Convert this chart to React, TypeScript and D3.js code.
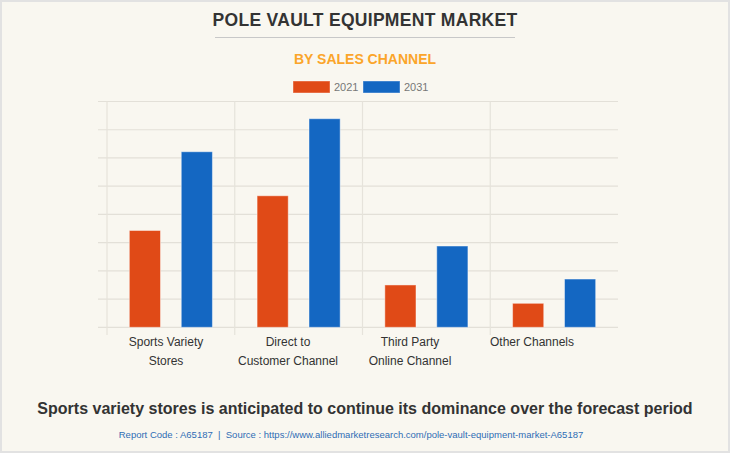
import React from "react";
import * as d3 from "d3";

const categories = ["Sports Variety Stores", "Direct to Customer Channel", "Third Party Online Channel", "Other Channels"];
const categoryLines = [["Sports Variety", "Stores"], ["Direct to", "Customer Channel"], ["Third Party", "Online Channel"], ["Other Channels"]];
const years = ["2021", "2031"];
const values2021 = [3.43, 4.66, 1.5, 0.85];
const values2031 = [6.22, 7.39, 2.88, 1.71];
const yTicks = [0, 1, 2, 3, 4, 5, 6, 7, 8];

const W = 730;
const H = 453;
const colors: Record<string, string> = { "2021": "#E04A17", "2031": "#1467C2" };
const BG = "#F9F7F0";
const FONT = "'Liberation Sans', Arial, Helvetica, sans-serif";

export default function App() {
  const plotLeft = 107;
  const plotRight = 618;
  const plotTop = 101.5;
  const plotBottom = 327.3;

  const x0 = d3.scaleBand<string>().domain(categories).range([plotLeft, plotRight]).padding(0);
  const x1 = d3.scaleBand<string>().domain(years).range([0, x0.bandwidth()]).paddingInner(0.4).paddingOuter(0.43);
  const y = d3.scaleLinear().domain([0, 8]).range([plotBottom, plotTop]);
  const labelX = d3.scaleBand<string>().domain(categories).range([105, 593]);

  const series: Record<string, number[]> = { "2021": values2021, "2031": values2031 };

  return (
    <svg width={W} height={H} style={{ position: "absolute", left: 0, top: 0 }} fontFamily={FONT}>
      <rect x={1} y={1} width={W - 2} height={H - 2} fill={BG} stroke="#E2E2E2" strokeWidth={2} />
      <text x={365} y={26} textAnchor="middle" fontSize={17.5} fontWeight="bold" fill="#333" letterSpacing={0.3}>
        POLE VAULT EQUIPMENT MARKET
      </text>
      <line x1={215} x2={515} y1={37.5} y2={37.5} stroke="#C8C8C8" strokeWidth={1} />
      <text x={365} y={64} textAnchor="middle" fontSize={14} fontWeight="bold" fill="#FBA52A">
        BY SALES CHANNEL
      </text>
      {years.map((yr, i) => (
        <g key={yr} transform={`translate(${293 + i * 70},81)`}>
          <rect x={0} y={0} width={37} height={12} fill={colors[yr]} stroke="#fff" strokeOpacity={0.4} />
          <text x={41} y={10} fontSize={11} fill="#777">{yr}</text>
        </g>
      ))}
      {yTicks.map((t) => (
        <line key={t} x1={98} x2={plotRight} y1={y(t)} y2={y(t)} stroke="#E3E0D8" strokeWidth={1.2} />
      ))}
      {categories.map((c) => (
        <line key={c} x1={x0(c)!} x2={x0(c)!} y1={plotTop} y2={335} stroke="#E6E3DB" strokeWidth={1.2} />
      ))}
      {categories.map((c, ci) => (
        <g key={c} transform={`translate(${x0(c)},0)`}>
          {years.map((yr) => (
            <rect
              key={yr}
              x={x1(yr)!}
              y={y(series[yr][ci])}
              width={x1.bandwidth()}
              height={plotBottom - y(series[yr][ci])}
              fill={colors[yr]}
              stroke="#fff"
              strokeOpacity={0.45}
              strokeWidth={1}
            />
          ))}
        </g>
      ))}
      {categories.map((c, ci) => (
        <text key={c} x={labelX(c)! + labelX.bandwidth() / 2} y={346} textAnchor="middle" fontSize={12} fill="#333">
          {categoryLines[ci].map((ln, li) => (
            <tspan key={li} x={labelX(c)! + labelX.bandwidth() / 2} dy={li === 0 ? 0 : 19}>{ln}</tspan>
          ))}
        </text>
      ))}
      <text x={365} y={414} textAnchor="middle" fontSize={16} fontWeight="bold" fill="#333">
        Sports variety stores is anticipated to continue its dominance over the forecast period
      </text>
      <text x={351} y={438} textAnchor="middle" fontSize={9.5} fill="#2F6DB5" style={{ whiteSpace: "pre" }}>
        {"Report Code : A65187  |  Source : https://www.alliedmarketresearch.com/pole-vault-equipment-market-A65187"}
      </text>
    </svg>
  );
}
